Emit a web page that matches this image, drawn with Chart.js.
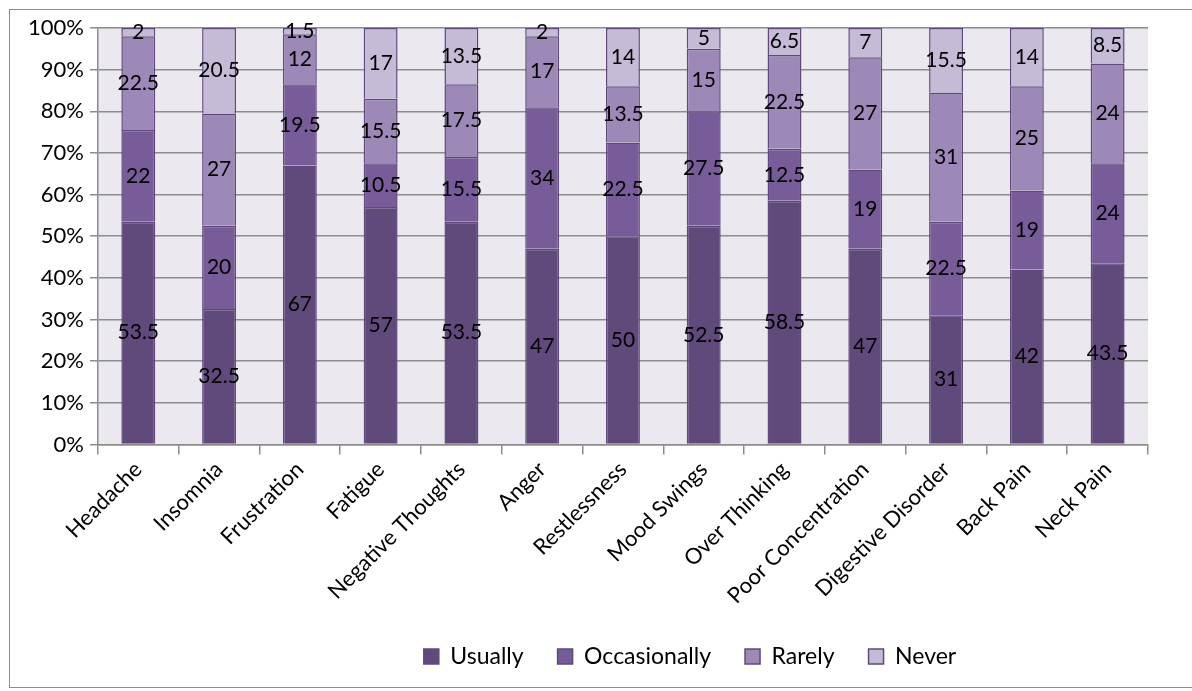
<!DOCTYPE html>
<html>
<head>
<meta charset="utf-8">
<script src="https://cdn.jsdelivr.net/npm/chart.js@4"></script>
<style>
  html, body { margin: 0; padding: 0; background: #fff; }
  #box { position: absolute; left: 9px; top: 9px; width: 1190px; height: 679px; border: 1.5px solid #8c8c8c; box-sizing: border-box; }
  #wrap { position: absolute; left: 0; top: 0; width: 1192px; height: 691px; }
</style>
</head>
<body>
<div id="box"></div>
<div id="wrap"><canvas id="myChart"></canvas></div>
<script>
const categories = ["Headache", "Insomnia", "Frustration", "Fatigue", "Negative Thoughts", "Anger", "Restlessness", "Mood Swings", "Over Thinking", "Poor Concentration", "Digestive Disorder", "Back Pain", "Neck Pain"];
const usually      = [53.5, 32.5, 67, 57, 53.5, 47, 50, 52.5, 58.5, 47, 31, 42, 43.5];
const occasionally = [22, 20, 19.5, 10.5, 15.5, 34, 22.5, 27.5, 12.5, 19, 22.5, 19, 24];
const rarely       = [22.5, 27, 12, 15.5, 17.5, 17, 13.5, 15, 22.5, 27, 31, 25, 24];
const never        = [2, 20.5, 1.5, 17, 13.5, 2, 14, 5, 6.5, 7, 15.5, 14, 8.5];
const yTicks = [0, 10, 20, 30, 40, 50, 60, 70, 80, 90, 100];

const FONT = "Lato, 'Open Sans', sans-serif";

// plot background
const plotBg = {
    id: 'plotBg',
    beforeDraw(chart) {
        const a = chart.chartArea, ctx = chart.ctx;
        ctx.save();
        ctx.fillStyle = '#ebe8f0';
        ctx.fillRect(a.left, a.top, a.right - a.left, a.bottom - a.top);
        ctx.restore();
    }
};

// legend sits a bit right of centre in the original
const legendShift = {
    id: 'legendShift',
    afterLayout(chart) {
        const lg = chart.legend;
        if (lg) { lg.left += 105; lg.right += 105; }
    }
};

// value labels in the middle of each segment
const segLabels = {
    id: 'segLabels',
    afterDatasetsDraw(chart) {
        const ctx = chart.ctx;
        ctx.save();
        ctx.font = '21px ' + FONT;
        ctx.fillStyle = '#000';
        ctx.textAlign = 'center';
        ctx.textBaseline = 'middle';
        chart.data.datasets.forEach((ds, i) => {
            const meta = chart.getDatasetMeta(i);
            meta.data.forEach((el, j) => {
                const v = ds.data[j];
                ctx.fillText(String(v), el.x, (el.y + el.base) / 2);
            });
        });
        ctx.restore();
    }
};

function ds(label, data, color) {
    return {
        label: label,
        data: data,
        backgroundColor: color,
        borderColor: '#5f497a',
        borderWidth: 1.5,
        barPercentage: 0.42,
        categoryPercentage: 1.0
    };
}

new Chart(document.getElementById('myChart').getContext('2d'), {
    type: 'bar',
    data: {
        labels: categories,
        datasets: [
            ds('Usually', usually, '#604a7b'),
            ds('Occasionally', occasionally, '#775c99'),
            ds('Rarely', rarely, '#9d89b8'),
            ds('Never', never, '#c6bbd6')
        ]
    },
    options: {
        responsive: true,
        maintainAspectRatio: false,
        animation: false,
        devicePixelRatio: 1,
        layout: { padding: { left: 22, right: 44, top: 28, bottom: 13 } },
        plugins: {
            legend: {
                position: 'bottom',
                labels: {
                    font: { size: 23, family: FONT },
                    color: '#000',
                    boxWidth: 15,
                    boxHeight: 15,
                    padding: 34
                }
            },
            tooltip: { enabled: false }
        },
        scales: {
            x: {
                stacked: true,
                grid: {
                    offset: true,
                    drawOnChartArea: false,
                    drawTicks: true,
                    tickLength: 10,
                    color: '#8c8c8c',
                    lineWidth: 1.5
                },
                border: { color: '#8c8c8c', width: 1.5 },
                ticks: {
                    minRotation: 45,
                    maxRotation: 45,
                    autoSkip: false,
                    padding: 2,
                    color: '#000',
                    font: { size: 22, family: FONT }
                }
            },
            y: {
                stacked: true,
                min: 0,
                max: 100,
                afterBuildTicks(axis) {
                    axis.ticks = yTicks.map(v => ({ value: v }));
                },
                grid: {
                    color: '#8c8c8c',
                    lineWidth: 1.5,
                    tickLength: 8
                },
                border: { color: '#8c8c8c', width: 1.5 },
                ticks: {
                    color: '#000',
                    font: { size: 22, family: FONT },
                    padding: 6,
                    callback: v => v + '%'
                }
            }
        }
    },
    plugins: [plotBg, legendShift, segLabels]
});
</script>
</body>
</html>
